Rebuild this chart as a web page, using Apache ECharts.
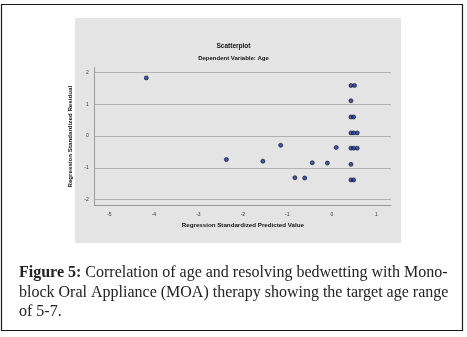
<!DOCTYPE html>
<html>
<head>
<meta charset="utf-8">
<script src="https://cdn.jsdelivr.net/npm/echarts@6/dist/echarts.min.js"></script>
<style>
  html, body { margin: 0; padding: 0; background: #fff; }
  #chart { width: 467px; height: 337px; }
</style>
</head>
<body>
<div id="chart"></div>
<script>
// predicted value (x) and residual (y)
const predicted = [-4.17, -2.37, -1.55, -1.15, -0.83, -0.61, -0.44, -0.10, 0.10,
  0.43, 0.51, 0.43, 0.43, 0.49, 0.43, 0.49, 0.57, 0.43, 0.49, 0.57, 0.43, 0.43, 0.49];
const residual = [1.83, -0.74, -0.79, -0.29, -1.31, -1.32, -0.84, -0.85, -0.36,
  1.59, 1.59, 1.11, 0.60, 0.60, 0.10, 0.10, 0.10, -0.38, -0.38, -0.38, -0.89, -1.38, -1.38];

const captionLines = [
  'Correlation of age and resolving bedwetting with Mono-',
  'block Oral Appliance (MOA) therapy showing the target age range',
  'of 5-7.'
];

const chart = echarts.init(document.getElementById('chart'));

const points = predicted.map((x, i) => [x, residual[i]]);

const tickLabel = { fontSize: 5, color: '#333', fontFamily: 'Liberation Sans' };
const nameStyle = { fontSize: 6.2, fontWeight: 'bold', color: '#111', fontFamily: 'Liberation Sans' };
const captionFont = { fontSize: 16, fontFamily: 'Liberation Serif', fill: '#222' };

chart.setOption({
  animation: false,
  backgroundColor: '#fff',
  title: {
    text: 'Scatterplot',
    subtext: 'Dependent Variable: Age',
    left: 'center',
    top: 38,
    itemGap: 5,
    textStyle: { fontSize: 6.5, fontWeight: 'bold', color: '#111', fontFamily: 'Liberation Sans' },
    subtextStyle: { fontSize: 6, fontWeight: 'bold', color: '#111', fontFamily: 'Liberation Sans' }
  },
  grid: { left: 94.7, right: 76, top: 67.7, bottom: 131.3 },
  xAxis: {
    type: 'value',
    min: -5.33,
    max: 1.33,
    minInterval: 1,
    maxInterval: 1,
    name: 'Regression Standardized Predicted Value',
    nameLocation: 'middle',
    nameGap: 17,
    nameTextStyle: nameStyle,
    axisLine: { show: true, onZero: false, lineStyle: { color: '#9a9a9a', width: 1 } },
    axisTick: { show: false },
    axisLabel: Object.assign({ margin: 6, showMinLabel: false, showMaxLabel: false }, tickLabel),
    splitLine: { show: false }
  },
  yAxis: {
    type: 'value',
    min: -2.19,
    max: 2.15,
    minInterval: 1,
    maxInterval: 1,
    name: 'Regression Standardized Residual',
    nameLocation: 'middle',
    nameGap: 14,
    nameTextStyle: nameStyle,
    axisLine: { show: true, onZero: false, lineStyle: { color: '#9a9a9a', width: 1 } },
    axisTick: { show: false },
    axisLabel: Object.assign({ margin: 6, showMinLabel: false, showMaxLabel: false }, tickLabel),
    splitLine: {
      show: true,
      showMinLine: false,
      showMaxLine: false,
      lineStyle: { color: '#b2b2b2', width: 1 }
    }
  },
  series: [{
    type: 'scatter',
    data: points,
    symbolSize: 4,
    itemStyle: { color: '#17339a', borderColor: '#0b0b20', borderWidth: 0.8 },
    z: 5
  }],
  graphic: [
    {
      type: 'rect',
      z: -10,
      silent: true,
      shape: { x: 1.5, y: 4.5, width: 461, height: 326 },
      style: { fill: '#fff', stroke: '#1a1a1a', lineWidth: 1.2 }
    },
    {
      type: 'rect',
      z: -9,
      silent: true,
      shape: { x: 75, y: 18, width: 326, height: 225 },
      style: { fill: '#e4e4e4' }
    },
    {
      type: 'text',
      left: 19,
      top: 265,
      style: Object.assign({
        text: '{b|Figure 5:} ' + captionLines[0],
        rich: { b: Object.assign({ fontWeight: 'bold' }, captionFont) }
      }, captionFont)
    },
    {
      type: 'text',
      left: 19,
      top: 284.5,
      style: Object.assign({ text: captionLines[1] }, captionFont)
    },
    {
      type: 'text',
      left: 19,
      top: 304,
      style: Object.assign({ text: captionLines[2] }, captionFont)
    }
  ]
});
</script>
</body>
</html>
